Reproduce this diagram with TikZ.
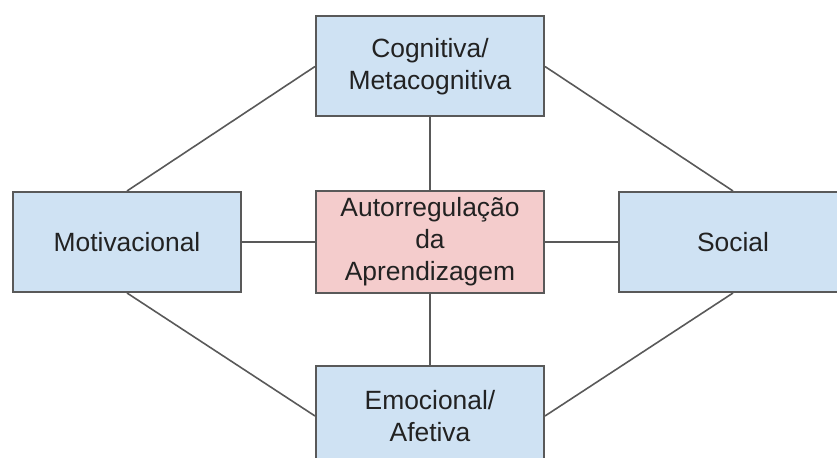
\documentclass[tikz,border=0pt]{standalone}
\usepackage{fontspec}
\setmainfont{Liberation Sans}
\definecolor{boxblue}{HTML}{CFE2F3}
\definecolor{boxpink}{HTML}{F4CCCC}
\definecolor{edgegray}{HTML}{595959}
\definecolor{textdark}{HTML}{222222}
\tikzset{
  dimbox/.style={draw=edgegray, line width=1pt, fill=boxblue, text=textdark,
    minimum width=114pt, minimum height=50pt, align=center,
    font=\fontsize{13.2}{16}\selectfont},
  corebox/.style={dimbox, fill=boxpink},
  link/.style={draw=edgegray, line width=0.8pt}
}
\begin{document}
\begin{tikzpicture}[x=0.5pt,y=-0.5pt]
        \useasboundingbox (0,0) rectangle (837,458);
        \node[corebox] (core) at (430,242) {Autorregulação\\da\\Aprendizagem};
        \node[dimbox] (cog) at (430,66.5) {Cognitiva/\\Metacognitiva};
        \node[dimbox] (mot) at (127,242) {Motivacional};
        \node[dimbox] (soc) at (733,242) {Social};
        \node[dimbox] (emo) at (430,416) {Emocional/\\Afetiva};
        % spokes from the centre
        \draw[link] (cog.south) -- (core.north);
        \draw[link] (core.south) -- (emo.north);
        \draw[link] (mot.east) -- (core.west);
        \draw[link] (core.east) -- (soc.west);
        % outer ring
        \draw[link] (cog.west) -- (mot.north);
        \draw[link] (cog.east) -- (soc.north);
        \draw[link] (mot.south) -- (emo.west);
        \draw[link] (soc.south) -- (emo.east);
      \end{tikzpicture}
\end{document}
